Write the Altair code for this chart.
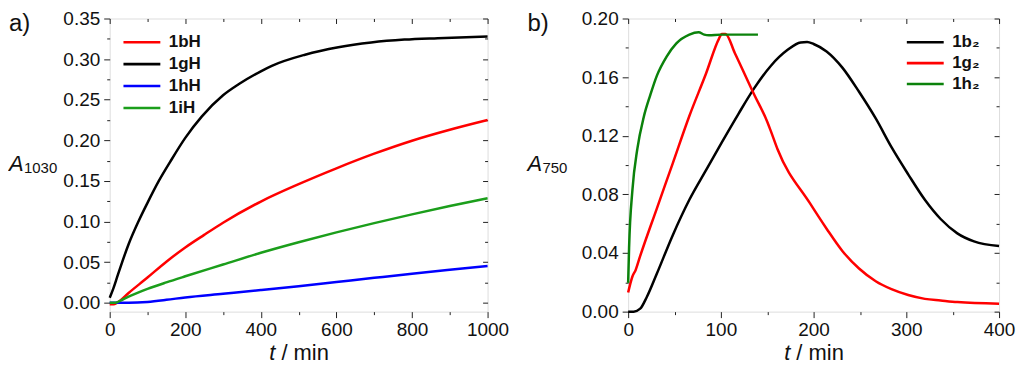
import altair as alt
import pandas as pd

FONT = "Liberation Sans"

# ---------------- panel a) ----------------
a_series = ["1bH", "1gH", "1hH", "1iH"]
a_colors = ["#ff0000", "#000000", "#0000ff", "#1b9e1b"]

t_1bH = [0, 10, 20, 50, 100, 150, 200, 250, 300, 400, 500, 600, 700, 800, 900, 1000]
A_1bH = [-0.002, -0.002, 0.0, 0.012, 0.031, 0.0505, 0.068, 0.0835, 0.0985, 0.1246, 0.146,
         0.1655, 0.1835, 0.1995, 0.213, 0.225]

t_1gH = [0, 10, 20, 33, 50, 76, 100, 130, 160, 200, 244, 300, 341, 400, 429, 517, 605, 692,
         780, 868, 1000]
A_1gH = [0.006, 0.018, 0.032, 0.05, 0.072, 0.10, 0.123, 0.15, 0.1735, 0.203, 0.2295, 0.2555,
         0.269, 0.285, 0.2917, 0.3054, 0.3145, 0.3204, 0.324, 0.3258, 0.3278]

t_1hH = [0, 50, 100, 150, 200, 300, 400, 500, 600, 700, 800, 900, 1000]
A_1hH = [0.0, 0.0, 0.001, 0.0035, 0.0065, 0.011, 0.0155, 0.0202, 0.0254, 0.0306, 0.0357,
         0.0405, 0.0452]

t_1iH = [0, 15, 30, 50, 75, 100, 150, 200, 300, 400, 500, 600, 700, 800, 900, 1000]
A_1iH = [0.0, 0.0, 0.003, 0.0075, 0.0125, 0.017, 0.025, 0.0325, 0.047, 0.0615, 0.0745, 0.0866,
         0.098, 0.1088, 0.119, 0.1286]

a_x_major = [0, 200, 400, 600, 800, 1000]
a_x_minor = [100, 300, 500, 700, 900]
a_y_major = [0.00, 0.05, 0.10, 0.15, 0.20, 0.25, 0.30, 0.35]
a_y_minor = [0.025, 0.075, 0.125, 0.175, 0.225, 0.275, 0.325]
a_x_domain = [0, 1000]
a_y_domain = [-0.011, 0.35]

# ---------------- panel b) ----------------
b_series = ["1b\u2082", "1g\u2082", "1h\u2082"]
b_colors = ["#000000", "#ff0000", "#0b820b"]

t_1b2 = [0, 6, 13, 20, 31, 48, 66, 84, 101, 119, 136, 154, 172, 186, 193, 200, 214, 231, 249,
         267, 284, 302, 320, 337, 355, 373, 400]
A_1b2 = [0.0, 0.0, 0.002, 0.0098, 0.026, 0.052, 0.0763, 0.0965, 0.1155, 0.135, 0.1525, 0.1678,
         0.1786, 0.1837, 0.184, 0.1826, 0.1775, 0.1665, 0.150, 0.1318, 0.1122, 0.0937, 0.0763,
         0.0632, 0.0534, 0.0479, 0.0447]

t_1g2 = [0, 4.6, 8, 13, 31, 48, 66, 84, 98, 101, 105, 115, 136, 150, 154, 161, 196, 214,
         231, 249, 267, 284, 302, 320, 337, 355, 400]
A_1g2 = [0.0131, 0.024, 0.0283, 0.038, 0.0705, 0.101, 0.1335, 0.1625, 0.1863, 0.1895, 0.1895,
         0.1765, 0.148, 0.1296, 0.123, 0.111, 0.074, 0.0566, 0.0414, 0.0294, 0.0207,
         0.0153, 0.0113, 0.0087, 0.0076, 0.0065, 0.0054]

t_1h2 = [0, 1, 4.6, 9.9, 16.9, 24, 31, 41.5, 52, 66, 76, 82, 87, 100, 120, 140]
A_1h2 = [0.0196, 0.0436, 0.083, 0.111, 0.133, 0.148, 0.161, 0.174, 0.183, 0.189, 0.1906, 0.189,
         0.1885, 0.189, 0.189, 0.189]

b_x_major = [0, 100, 200, 300, 400]
b_x_minor = [50, 150, 250, 350]
b_y_major = [0.00, 0.04, 0.08, 0.12, 0.16, 0.20]
b_y_minor = [0.02, 0.06, 0.10, 0.14, 0.18]
b_x_domain = [0, 400]
b_y_domain = [0, 0.2]

W_A = 379
W_B = 372
H = 294

LEGEND_LINE = "M-2,0L2,0"


def frame(names, ts, vs):
    rows = []
    for n, t, v in zip(names, ts, vs):
        for ti, vi in zip(t, v):
            rows.append({"t": ti, "A": vi, "series": n})
    return pd.DataFrame(rows)


def text_layer(s, x, y, size, style="normal", weight="normal", align="left"):
    return alt.Chart(pd.DataFrame({"s": [s]})).mark_text(
        align=align, baseline="alphabetic", font=FONT, fontSize=size,
        fontStyle=style, fontWeight=weight, color="#111"
    ).encode(x=alt.value(x), y=alt.value(y), text="s:N")


def panel(df, series, colors, xdom, ydom, xmaj, xmin, ymaj, ymin, legx, legy, rowpad,
          tag, sub, width):
    xs = alt.Scale(domain=xdom, nice=False, zero=False)
    ys = alt.Scale(domain=ydom, nice=False, zero=False)
    lines = alt.Chart(df).mark_line(strokeWidth=2.5, interpolate="monotone").encode(
        x=alt.X("t:Q", scale=xs, axis=alt.Axis(
            orient="bottom", values=xmaj, format="d", title=None, grid=False, domain=False,
            tickSize=6, tickColor="#222", labelPadding=3, labelFont=FONT, labelFontSize=19,
            labelColor="#111", labelFlush=False)),
        y=alt.Y("A:Q", scale=ys, axis=alt.Axis(
            orient="left", values=ymaj, format=".2f", title=None, grid=False, domain=False,
            tickSize=6, tickColor="#222", labelPadding=4, labelFont=FONT, labelFontSize=19,
            labelColor="#111", labelFlush=False)),
        color=alt.Color("series:N", sort=series,
                        scale=alt.Scale(domain=series, range=colors),
                        legend=alt.Legend(
                            orient="none", legendX=legx, legendY=legy, title=None,
                            symbolType=LEGEND_LINE, symbolSize=342, symbolStrokeWidth=2.6,
                            labelFont=FONT, labelFontSize=17, labelFontWeight="bold",
                            labelColor="#111", labelOffset=16, rowPadding=rowpad,
                            padding=0)),
    )
    anchor = pd.DataFrame({"t": [xdom[0]], "A": [ydom[0]]})

    def tick_layer(xo, yo, xv, yv, size, off):
        return alt.Chart(anchor).mark_point(opacity=0).encode(
            x=alt.X("t:Q", scale=xs, axis=alt.Axis(
                orient=xo, values=xv, labels=False, title=None, grid=False, domain=False,
                tickSize=size, offset=off, tickColor="#222")),
            y=alt.Y("A:Q", scale=ys, axis=alt.Axis(
                orient=yo, values=yv, labels=False, title=None, grid=False, domain=False,
                tickSize=size, offset=off, tickColor="#222")),
        )

    t_start = width / 2 - 29.5
    layers = [
        lines,
        tick_layer("bottom", "left", xmin, ymin, 3, 0),
        tick_layer("top", "right", xmaj, ymaj, 5, -5),
        tick_layer("top", "right", xmin, ymin, 3, -3),
        text_layer(tag, -101, 13, 24),
        text_layer("A", -101, H * 0.5214, 22, style="italic"),
        text_layer(sub, -86, H * 0.5266, 15),
        text_layer("t", t_start, H + 49, 22, style="italic"),
        text_layer("/ min", t_start + 12.2, H + 49, 22),
    ]
    return alt.layer(*layers).resolve_axis(x="independent", y="independent").properties(
        width=width, height=H)


df_a = frame(a_series, [t_1bH, t_1gH, t_1hH, t_1iH], [A_1bH, A_1gH, A_1hH, A_1iH])
df_b = frame(b_series, [t_1b2, t_1g2, t_1h2], [A_1b2, A_1g2, A_1h2])

pa = panel(df_a, a_series, a_colors, a_x_domain, a_y_domain, a_x_major, a_x_minor,
           a_y_major, a_y_minor, 21.3, 12.75, 3, "a)", "1030", W_A)
pb = panel(df_b, b_series, b_colors, b_x_domain, b_y_domain, b_x_major, b_x_minor,
           b_y_major, b_y_minor, 287, 12.75, 2, "b)", "750", W_B)

chart = alt.hconcat(pa, pb, spacing=17).resolve_scale(color="independent").resolve_legend(
    color="independent").properties(padding=0).configure_view(
    stroke="#222", strokeWidth=1.2).configure(background="white")

chart.save("out.html", embed_options={"renderer": "svg", "actions": False})
